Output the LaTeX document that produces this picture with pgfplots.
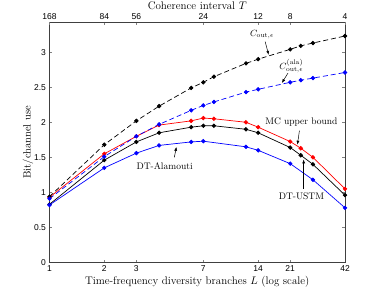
\documentclass[border=0pt]{standalone}
\usepackage{fontspec}
\usepackage{pgfplots}
\pgfplotsset{compat=1.18}
\usetikzlibrary{arrows.meta}
\newfontfamily\ticksf{Liberation Sans}

\pgfplotstableread{
L    cout  cala  mc    ustm
1    0.94  0.91  0.93  0.83
2    1.68  1.51  1.55  1.46
3    2.02  1.80  1.80  1.72
4    2.23  1.97  1.96  1.85
6    2.49  2.17  2.02  1.93
7    2.57  2.24  2.06  1.95
8    2.65  2.29  2.05  1.95
12   2.84  2.43  2.00  1.90
14   2.90  2.47  1.93  1.85
21   3.04  2.57  1.725 1.64
24   3.09  2.60  1.63  1.53
28   3.13  2.63  1.50  1.40
42   3.23  2.71  1.05  0.96
}\maindata

\pgfplotstableread{
L    ala
1    0.82
2    1.35
3    1.56
4    1.67
6    1.72
7    1.73
12   1.65
14   1.60
21   1.41
28   1.18
42   0.78
}\aladata

\begin{document}
\begin{tikzpicture}
\begin{axis}[name=main,
  scale only axis, width=295.5pt, height=240.5pt,
  xmode=log, xmin=1, xmax=42, ymin=0, ymax=3.43,
  tick align=inside, major tick length=3pt,
  axis line style={black!75},
  xticklabel style={font=\ticksf\fontsize{8.5}{10}\selectfont},
  yticklabel style={font=\ticksf\fontsize{8.5}{10}\selectfont},
  xlabel style={font=\fontsize{11}{12}\selectfont, yshift=3pt},
  ylabel style={font=\fontsize{10.5}{12}\selectfont, yshift=-6pt},
  xtick={1,2,3,7,14,21,42},
  xticklabels={1,2,3,7,14,21,42},
  ytick={0,0.5,1,1.5,2,2.5,3},
  yticklabels={0,0.5,1,1.5,2,2.5,3},
  xtick pos=both, ytick pos=both,
  minor xtick={},
  xlabel={Time-frequency diversity branches $L$ (log scale)},
  ylabel={Bit/channel use},
  mark size=1.8pt,
]
\addplot[red, line width=0.7pt, mark=*, mark options={solid, fill=red}] table[x=L, y=mc] {\maindata};
\addplot[black, line width=0.7pt, mark=*, mark options={solid, fill=black}] table[x=L, y=ustm] {\maindata};
\addplot[blue, line width=0.7pt, mark=*, mark options={solid, fill=blue}] table[x=L, y=ala] {\aladata};
\addplot[black, line width=0.7pt, dash pattern=on 5pt off 3pt, mark=*, mark options={solid, fill=black}] table[x=L, y=cout] {\maindata};
\addplot[blue, line width=0.7pt, dash pattern=on 5pt off 3pt, mark=*, mark options={solid, fill=blue}] table[x=L, y=cala] {\maindata};

\node[font=\fontsize{9.5}{11}\selectfont] at (axis cs:14.7,3.25) {$C_{\mathrm{out},\epsilon}$};
\draw[-{Latex[length=4pt,width=3pt]}, line width=0.5pt] (axis cs:15.3,3.15) -- (axis cs:16.0,2.96);
\node[font=\fontsize{9.5}{11}\selectfont] at (axis cs:21.3,2.80) {$C_{\mathrm{out},\epsilon}^{(\mathrm{ala})}$};
\draw[-{Latex[length=4pt,width=3pt]}, line width=0.5pt] (axis cs:20.4,2.70) -- (axis cs:18.9,2.56);
\node[font=\fontsize{9.5}{11}\selectfont] at (axis cs:24.2,2.005) {MC upper bound};
\draw[-{Latex[length=4pt,width=3pt]}, line width=0.5pt] (axis cs:23.6,1.88) -- (axis cs:23.0,1.68);
\node[font=\fontsize{9.5}{11}\selectfont] at (axis cs:24.2,0.95) {DT-USTM};
\draw[-{Latex[length=4pt,width=3pt]}, line width=0.5pt] (axis cs:24.9,1.05) -- (axis cs:24.9,1.47);
\node[font=\fontsize{9.5}{11}\selectfont] at (axis cs:4.29,1.37) {DT-Alamouti};
\draw[-{Latex[length=4pt,width=3pt]}, line width=0.5pt] (axis cs:4.85,1.50) -- (axis cs:4.98,1.65);
\end{axis}

\begin{axis}[
  scale only axis, width=295.5pt, height=240.5pt,
  xmode=log, xmin=1, xmax=42, ymin=0, ymax=3.43,
  tick align=inside, major tick length=3pt,
  axis line style={black!75},
  xticklabel style={font=\ticksf\fontsize{8.5}{10}\selectfont, yshift=-1pt},
  xlabel style={font=\fontsize{11}{12}\selectfont, at={(axis description cs:0.5,1)}, anchor=center, yshift=16pt},
  axis x line*=top, axis y line=none,
  xtick={1,2,3,7,14,21,42},
  xticklabels={168,84,56,24,12,8,4},
  minor xtick={},
  xlabel={Coherence interval $T$},
]
\end{axis}
\pgfresetboundingbox
\path ([xshift=-49.5pt,yshift=-33.5pt]main.south west) rectangle ([xshift=37pt,yshift=22pt]main.north east);
\end{tikzpicture}
\end{document}
